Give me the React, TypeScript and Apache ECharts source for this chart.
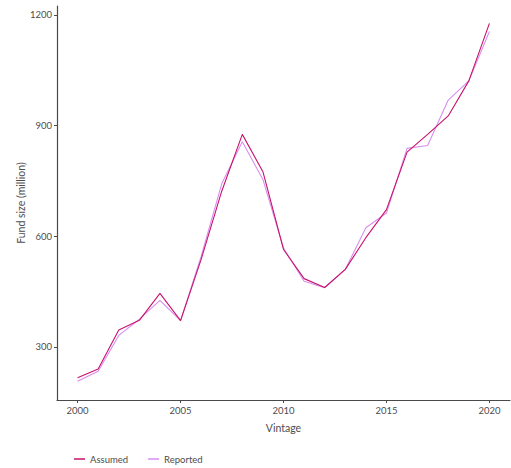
import React, { useEffect, useRef } from "react";
import * as echarts from "echarts";

const years = [2000, 2001, 2002, 2003, 2004, 2005, 2006, 2007, 2008, 2009, 2010, 2011, 2012, 2013, 2014, 2015, 2016, 2017, 2018, 2019, 2020];
const assumed = [216, 240, 346, 372, 445, 371, 537, 722, 876, 775, 564, 485, 461, 510, 596, 672, 828, 876, 926, 1021, 1177];
const reported = [207, 234, 331, 375, 426, 371, 545, 742, 856, 754, 568, 478, 460, 510, 623, 663, 838, 846, 969, 1021, 1155];
const xTicks = [2000, 2005, 2010, 2015, 2020];
const yTicks = [300, 600, 900, 1200];

const FONT = "Lato, 'Open Sans', sans-serif";
const AXIS = "#4a4a4a";
const LABEL = "#4d4d4d";
const C_ASSUMED = "#c8136a";
const C_REPORTED = "#d98ef0";

export default function App() {
  const ref = useRef<HTMLDivElement>(null);
  useEffect(() => {
    if (!ref.current) return;
    const chart = echarts.init(ref.current, undefined, { renderer: "svg" });
    chart.setOption({
      animation: false,
      textStyle: { fontFamily: FONT },
      grid: { left: 57, right: 1, top: 6, bottom: 68, containLabel: false },
      xAxis: {
        type: "value",
        min: 1999,
        max: 2021,
        name: "Vintage",
        nameLocation: "middle",
        nameGap: 22,
        nameMoveOverlap: false,
        nameTextStyle: { color: LABEL, fontSize: 10.5, fontFamily: FONT },
        axisLine: { show: true, lineStyle: { color: AXIS, width: 1.2 } },
        axisTick: { show: true, length: 3, customValues: xTicks, lineStyle: { color: AXIS } },
        axisLabel: { customValues: xTicks, color: LABEL, fontSize: 9.5, margin: 5, fontFamily: FONT, formatter: (v: number) => String(v) },
        splitLine: { show: false },
      },
      yAxis: {
        type: "value",
        min: 156,
        max: 1224,
        name: "Fund size (million)",
        nameLocation: "middle",
        nameGap: 31,
        nameMoveOverlap: false,
        nameTextStyle: { color: LABEL, fontSize: 10.5, fontFamily: FONT },
        axisLine: { show: true, lineStyle: { color: AXIS, width: 1.2 } },
        axisTick: { show: true, length: 3, customValues: yTicks, lineStyle: { color: AXIS } },
        axisLabel: { customValues: yTicks, color: LABEL, fontSize: 9.5, margin: 5, fontFamily: FONT, formatter: (v: number) => String(v) },
        splitLine: { show: false },
      },
      legend: {
        left: 69,
        top: 449,
        itemWidth: 11,
        itemHeight: 1.5,
        itemGap: 20,
        icon: "rect",
        textStyle: { color: LABEL, fontSize: 9.5, fontFamily: FONT },
        data: ["Assumed", "Reported"],
      },
      series: [
        {
          name: "Reported",
          type: "line",
          symbol: "none",
          data: years.map((y, i) => [y, reported[i]]),
          lineStyle: { color: C_REPORTED, width: 1.1 },
          itemStyle: { color: C_REPORTED },
        },
        {
          name: "Assumed",
          type: "line",
          symbol: "none",
          data: years.map((y, i) => [y, assumed[i]]),
          lineStyle: { color: C_ASSUMED, width: 1.1 },
          itemStyle: { color: C_ASSUMED },
        },
      ],
    });
    return () => chart.dispose();
  }, []);
  return <div ref={ref} style={{ width: 511, height: 468, position: "absolute", left: 0, top: 0 }} />;
}
